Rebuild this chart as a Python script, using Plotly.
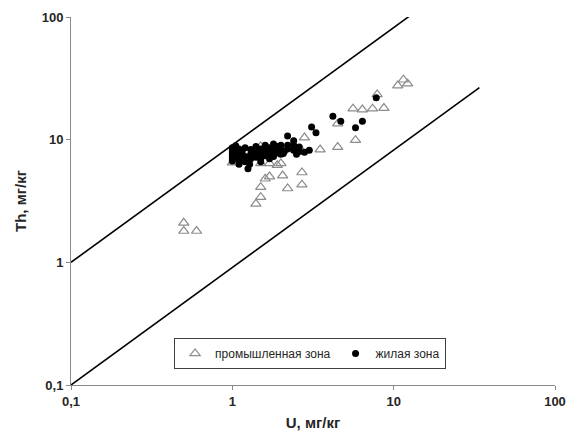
import plotly.graph_objects as go

# промышленная зона (triangles)
ind_u = [0.5, 0.5, 0.6, 1.4, 1.5, 1.5, 1.6, 1.7, 2.05, 2.2, 2.7, 2.7,
         2.0, 1.0, 1.5, 1.7, 1.9, 1.5, 2.3, 2.7, 2.8, 3.5, 4.5, 5.8, 4.5,
         5.6, 6.4, 7.4, 8.7, 7.9, 10.6, 11.5, 12.2]
ind_th = [2.1, 1.8, 1.8, 3.0, 3.4, 4.1, 4.8, 5.0, 5.1, 4.0, 5.4, 4.3,
          6.4, 6.5, 6.4, 6.4, 6.2, 8.8, 8.7, 8.1, 10.4, 8.3, 8.7, 9.9, 13.5,
          17.9, 17.6, 17.9, 18.1, 23.4, 27.6, 30.8, 28.6]

# жилая зона (dots)
res_u = [1.0, 1.0, 1.0, 1.0, 1.0, 1.0, 1.05, 1.05, 1.05, 1.1, 1.1, 1.1, 1.1,
         1.15, 1.15, 1.25, 1.2, 1.2, 1.2, 1.3, 1.3, 1.3, 1.28, 1.4, 1.4, 1.4,
         1.5, 1.5, 1.5, 1.5, 1.6, 1.6, 1.6, 1.7, 1.7, 1.7, 1.8, 1.8, 1.8,
         1.9, 1.9, 2.0, 2.0, 2.0, 2.1, 2.07, 2.2, 2.2, 2.2, 2.4, 2.4, 2.4, 2.5,
         2.6, 2.6, 2.8, 3.0, 3.1, 3.3, 4.2, 4.7, 5.8, 6.4, 7.8]
res_th = [8.6, 8.2, 7.8, 7.4, 7.0, 6.7, 8.9, 7.9, 7.2, 8.4, 7.6, 6.3, 6.9,
          8.0, 7.0, 5.8, 8.6, 7.3, 6.6, 8.3, 7.6, 7.0, 6.3, 8.8, 7.9, 7.2,
          8.4, 7.7, 7.0, 6.6, 8.0, 7.4, 9.0, 8.6, 7.6, 7.0, 8.2, 7.3, 9.2,
          8.8, 7.8, 8.3, 7.6, 9.0, 8.0, 7.7, 9.0, 8.4, 10.7, 9.0, 8.2, 9.8, 7.6,
          8.7, 8.0, 7.9, 8.2, 12.7, 11.4, 15.5, 14.1, 12.5, 14.1, 22.0]

# reference lines
upper_u = [0.1, 13.6]
upper_th = [1.0, 110.0]
lower_u = [0.1, 34.0]
lower_th = [0.1, 26.6]

tick_vals = [0.1, 1, 10, 100]
tick_text = ["0,1", "1", "10", "100"]

fig = go.Figure()
fig.add_trace(go.Scatter(x=upper_u, y=upper_th, mode="lines",
                         line=dict(color="black", width=1.6), showlegend=False, hoverinfo="skip"))
fig.add_trace(go.Scatter(x=lower_u, y=lower_th, mode="lines",
                         line=dict(color="black", width=1.6), showlegend=False, hoverinfo="skip"))
fig.add_trace(go.Scatter(x=ind_u, y=ind_th, mode="markers", name="промышленная зона",
                         marker=dict(symbol="triangle-up-open", size=9, color="#8c8c8c",
                                     line=dict(width=1.2, color="#8c8c8c"))))
fig.add_trace(go.Scatter(x=res_u, y=res_th, mode="markers", name="жилая зона",
                         marker=dict(symbol="circle", size=7, color="black")))

axis_common = dict(
    type="log", range=[-1, 2], tickvals=tick_vals, ticktext=tick_text,
    showgrid=False, zeroline=False, showline=True, linecolor="#8a8a8a", linewidth=1,
    ticks="outside", ticklen=4, tickcolor="#8a8a8a", mirror=False, automargin=False,
    tickfont=dict(family="Liberation Sans", size=13, color="#262626", weight="bold"),
)

fig.update_layout(
    width=579, height=433,
    margin=dict(l=63, r=32, t=9, b=56),
    paper_bgcolor="white", plot_bgcolor="white",
    xaxis=dict(**axis_common,
               title=dict(text="<b>U, мг/кг</b>", standoff=9,
                          font=dict(family="Liberation Sans", size=15, color="#262626"))),
    yaxis=dict(**axis_common,
               title=dict(text="<b>Th, мг/кг</b>", standoff=11,
                          font=dict(family="Liberation Sans", size=15, color="#262626"))),
    legend=dict(orientation="h", x=0.494, xanchor="center", y=0.128, yanchor="top",
                bordercolor="#404040", borderwidth=1, bgcolor="white",
                itemwidth=30, tracegroupgap=0,
                font=dict(family="Liberation Sans", size=12, color="#262626")),
)

fig.write_html("out.html")
